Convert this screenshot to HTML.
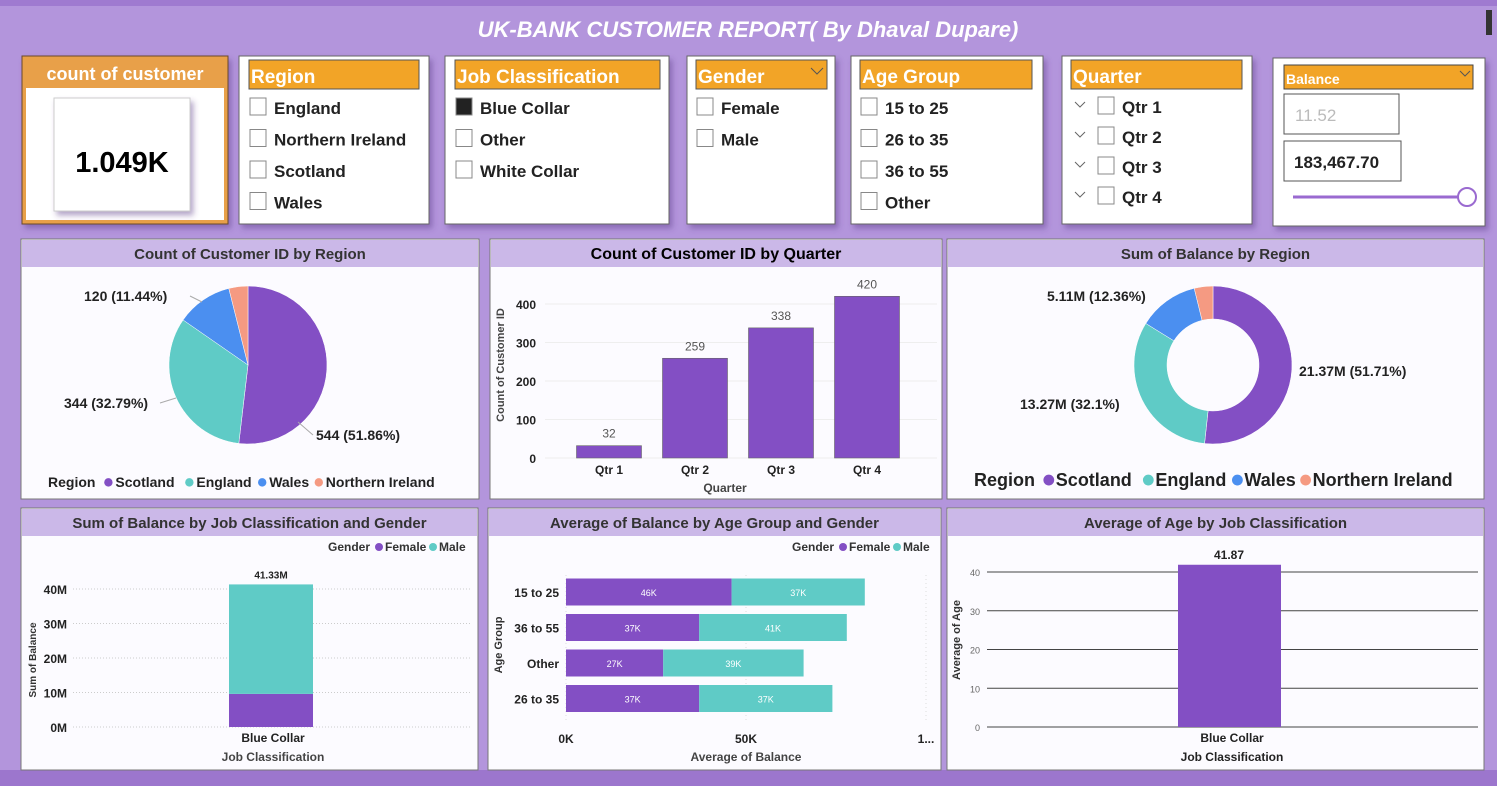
<!DOCTYPE html>
<html><head><meta charset="utf-8"><style>
html,body{margin:0;padding:0;width:1497px;height:786px;overflow:hidden;background:#b395dc;font-family:"Liberation Sans",sans-serif}
svg text{font-family:"Liberation Sans",sans-serif}
</style></head><body>
<svg id="dash" width="1497" height="786" viewBox="0 0 1497 786" xmlns="http://www.w3.org/2000/svg">
<defs><filter id="sh" x="-5%" y="-5%" width="115%" height="120%"><feDropShadow dx="3" dy="4" stdDeviation="3" flood-color="#5a3c86" flood-opacity="0.45"/></filter></defs>
<rect x="0" y="0" width="1497" height="786" fill="#b395dc"/>
<rect x="0" y="0" width="1497" height="6" fill="#9f7ad0"/>
<rect x="0" y="770" width="1497" height="16" fill="#9c76cd"/>
<rect x="1486" y="10" width="6" height="25" fill="#333"/>
<text x="748" y="37" text-anchor="middle" font-size="22" font-weight="bold" font-style="italic" fill="#fff">UK-BANK CUSTOMER REPORT( By Dhaval Dupare)</text>

<!-- KPI card -->
<g filter="url(#sh)">
<rect x="22" y="56" width="206" height="168" fill="#e8a04a" stroke="#6b4a2a" stroke-width="1"/>
<rect x="26" y="88" width="198" height="132" fill="#fff"/>
</g>
<text x="125" y="80" text-anchor="middle" font-size="18" font-weight="bold" fill="#fff">count of customer</text>
<rect x="54" y="98" width="136" height="113" fill="#fff" stroke="#ccc" filter="url(#sh)"/>
<text x="122" y="172" text-anchor="middle" font-size="29" font-weight="bold" fill="#000">1.049K</text>

<g id="slicers"></g>

<!-- Balance slicer -->
<g>
<rect x="1273" y="58" width="212" height="168" fill="#fff" stroke="#666" filter="url(#sh)"/>
<rect x="1284" y="65" width="189" height="24" fill="#f2a427" stroke="#444"/>
<text x="1286" y="84" font-size="14" font-weight="bold" fill="#fff">Balance</text>
<path d="M1460 71 l5 5 l5 -5" fill="none" stroke="#555"/>
<rect x="1284" y="94" width="115" height="40" fill="#fff" stroke="#555"/>
<text x="1295" y="121" font-size="17" fill="#bbb">11.52</text>
<rect x="1284" y="141" width="117" height="40" fill="#fff" stroke="#555"/>
<text x="1294" y="168" font-size="17" font-weight="bold" fill="#222">183,467.70</text>
<line x1="1293" y1="197" x2="1458" y2="197" stroke="#9a6ad0" stroke-width="3"/>
<circle cx="1467" cy="197" r="9" fill="#fff" stroke="#9a6ad0" stroke-width="2"/>
</g>

<g id="cards"></g>
<g id="charts"></g>
</svg>
<script>
const NS="http://www.w3.org/2000/svg";
function mk(tag,attrs,parent,txt){const e=document.createElementNS(NS,tag);for(const k in attrs)e.setAttribute(k,attrs[k]);if(txt!==undefined)e.textContent=txt;parent.appendChild(e);return e;}
const PURPLE="#834fc4",TEAL="#5fcbc6",BLUE="#4b8ff0",SALMON="#f59a82";

// ---- slicers
const slicers=[
 {name:"region-slicer",title:"Region",x:239,w:190,hx:249,hw:170,items:["England","Northern Ireland","Scotland","Wales"]},
 {name:"job-classification-slicer",title:"Job Classification",x:445,w:224,hx:455,hw:205,items:["Blue Collar","Other","White Collar"],checked:0},
 {name:"gender-slicer",title:"Gender",x:687,w:148,hx:696,hw:131,items:["Female","Male"],chev:true},
 {name:"age-group-slicer",title:"Age Group",x:851,w:192,hx:860,hw:172,items:["15 to 25","26 to 35","36 to 55","Other"]},
 {name:"quarter-slicer",title:"Quarter",x:1062,w:190,hx:1071,hw:171,items:["Qtr 1","Qtr 2","Qtr 3","Qtr 4"],tree:true}
];
const sg=document.getElementById('slicers');
slicers.forEach(s=>{
 const g=mk('g',{},sg);
 
 
 mk('rect',{x:s.x,y:56,width:s.w,height:168,fill:'#fff',stroke:'#666',filter:'url(#sh)'},g);
 mk('rect',{x:s.hx,y:60,width:s.hw,height:29,fill:'#f2a427',stroke:'#555'},g);
 mk('text',{x:s.hx+2,y:83,'font-size':19,'font-weight':'bold',fill:'#fff'},g,s.title);
 if(s.chev) mk('path',{d:`M${s.hx+s.hw-16} 68 l6 6 l6 -6`,fill:'none',stroke:'#555'},g);
 s.items.forEach((it,i)=>{
  const y=s.tree?106+i*30:107+i*31.5;
  let bx=s.hx+1;
  if(s.tree){mk('path',{d:`M${s.hx+4} ${y-4} l5 5 l5 -5`,fill:'none',stroke:'#666'},g);bx=s.hx+27;}
  const cb=mk('rect',{x:bx,y:y-9,width:16,height:17,fill:s.checked===i?'#222':'#fff',stroke:'#888'},g);
  
  
  mk('text',{x:bx+24,y:y+7,'font-size':17,'font-weight':'bold',fill:'#222'},g,it);
 });
});

// ---- chart cards
const cardsDef=[
 {name:"region-pie-card",x:21,y:239,w:458,h:260,t:"Count of Customer ID by Region",c:"#333"},
 {name:"quarter-bar-card",x:490,y:239,w:452,h:260,t:"Count of Customer ID by Quarter",c:"#000",b:true},
 {name:"balance-donut-card",x:947,y:239,w:537,h:260,t:"Sum of Balance by Region",c:"#333"},
 {name:"job-gender-card",x:21,y:508,w:457,h:262,t:"Sum of Balance by Job Classification and Gender",c:"#333"},
 {name:"age-gender-card",x:488,y:508,w:453,h:262,t:"Average of Balance by Age Group and Gender",c:"#333"},
 {name:"age-job-card",x:947,y:508,w:537,h:262,t:"Average of Age by Job Classification",c:"#333"}
];
const cg=document.getElementById('cards');
cardsDef.forEach(c=>{
 const g=mk('g',{},cg);
 
 
 mk('rect',{x:c.x,y:c.y,width:c.w,height:c.h,fill:'#fcfbff',stroke:'#777'},g);
 mk('rect',{x:c.x+1,y:c.y+1,width:c.w-2,height:27,fill:'#cbb8e8'},g);
 mk('text',{x:c.x+c.w/2,y:c.y+20,'text-anchor':'middle','font-size':c.b?16:15,'font-weight':'bold',fill:c.c},g,c.t);
});

const ch=document.getElementById('charts');

// ---- Pie: count by region
const pieRegions=["Scotland","England","Wales","Northern Ireland"];
const pieCounts=[544,344,120,41];
const pieColors=[PURPLE,TEAL,BLUE,SALMON];
function drawPie(cx,cy,r,ri,vals,cols,name){
 const tot=vals.reduce((a,b)=>a+b,0);let a0=-Math.PI/2;
 vals.forEach((v,i)=>{
  const a1=a0+v/tot*2*Math.PI,large=(a1-a0)>Math.PI?1:0;
  const p=(a,rr)=>[cx+rr*Math.cos(a),cy+rr*Math.sin(a)];
  const [x0,y0]=p(a0,r),[x1,y1]=p(a1,r);
  let d=`M${x0} ${y0} A${r} ${r} 0 ${large} 1 ${x1} ${y1}`;
  if(ri>0){const [x2,y2]=p(a1,ri),[x3,y3]=p(a0,ri);d+=` L${x2} ${y2} A${ri} ${ri} 0 ${large} 0 ${x3} ${y3} Z`;}
  else d+=` L${cx} ${cy} Z`;
  const s=mk('path',{d:d,fill:cols[i],stroke:'#fff','stroke-width':0.5},ch);
  
  
  a0=a1;
 });
}
drawPie(248,365,79,0,pieCounts,pieColors,'region-pie');
const pieLabels=["544 (51.86%)","344 (32.79%)","120 (11.44%)"];
mk('text',{x:316,y:440,'font-size':14,'font-weight':'bold',fill:'#222'},ch,pieLabels[0]);
mk('text',{x:64,y:408,'font-size':14,'font-weight':'bold',fill:'#222'},ch,pieLabels[1]);
mk('text',{x:84,y:301,'font-size':14,'font-weight':'bold',fill:'#222'},ch,pieLabels[2]);
mk('path',{d:'M298 422 L313 435',stroke:'#aaa',fill:'none'},ch);
mk('path',{d:'M160 403 L176 398',stroke:'#aaa',fill:'none'},ch);
mk('path',{d:'M190 296 L202 302',stroke:'#aaa',fill:'none'},ch);
function legend(x,y,fs,title,items,cols,gap){
 const g=mk('g',{},ch);
 
 
 mk('text',{x:x,y:y,'font-size':fs,'font-weight':'bold',fill:'#222'},g,title);
 let cx=x+title.length*fs*0.6+6;
 items.forEach((it,i)=>{
  mk('circle',{cx:cx+4,cy:y-fs*0.33,r:fs*0.3,fill:cols[i]},g);
  mk('text',{x:cx+11,y:y,'font-size':fs,'font-weight':'bold',fill:'#222'},g,it);
  cx+=11+it.length*fs*0.58+gap;
 });
}
legend(48,487,14,"Region",pieRegions,pieColors,5);

// ---- Donut: balance by region
const donutVals=[21.37,13.27,5.11,1.58];
drawPie(1213,365,79,46,donutVals,pieColors,'balance-donut');
const donutLabels=["21.37M (51.71%)","13.27M (32.1%)","5.11M (12.36%)"];
mk('text',{x:1299,y:376,'font-size':14,'font-weight':'bold',fill:'#222'},ch,donutLabels[0]);
mk('text',{x:1020,y:409,'font-size':14,'font-weight':'bold',fill:'#222'},ch,donutLabels[1]);
mk('text',{x:1047,y:301,'font-size':14,'font-weight':'bold',fill:'#222'},ch,donutLabels[2]);
legend(974,486,18,"Region",pieRegions,pieColors,5);

// ---- Quarter bar
const quarters=["Qtr 1","Qtr 2","Qtr 3","Qtr 4"];
const quarterCounts=[32,259,338,420];
const qTicks=[0,100,200,300,400];
const qy=v=>458-v*(154/400), qx=i=>609+i*86;
qTicks.forEach(t=>{mk('line',{x1:545,y1:qy(t),x2:937,y2:qy(t),stroke:'#eee'},ch);
 mk('text',{x:536,y:qy(t)+5,'text-anchor':'end','font-size':12,'font-weight':'bold',fill:'#222'},ch,t);});
quarterCounts.forEach((v,i)=>{
 const r=mk('rect',{x:qx(i)-32.5,y:qy(v),width:65,height:qy(0)-qy(v),fill:PURPLE,stroke:'#666','stroke-width':0.6},ch);
 
 
 mk('text',{x:qx(i),y:qy(v)-8,'text-anchor':'middle','font-size':12,fill:'#555'},ch,v);
 mk('text',{x:qx(i),y:474,'text-anchor':'middle','font-size':12,'font-weight':'bold',fill:'#222'},ch,quarters[i]);
});
mk('text',{x:725,y:492,'text-anchor':'middle','font-size':12,'font-weight':'bold',fill:'#444'},ch,"Quarter");
mk('text',{x:0,y:0,transform:'translate(504,365) rotate(-90)','text-anchor':'middle','font-size':11,'font-weight':'bold',fill:'#444'},ch,"Count of Customer ID");

// ---- Job/gender stacked column
const jobCats=["Blue Collar"];
const jobFemale=[9.6];
const jobMale=[31.73];
const jobTicks=[0,10,20,30,40];
const jy=v=>727-v*(138/40);
jobTicks.forEach(t=>{mk('line',{x1:73,y1:jy(t),x2:470,y2:jy(t),stroke:'#ccc','stroke-dasharray':'1 2'},ch);
 mk('text',{x:67,y:jy(t)+5,'text-anchor':'end','font-size':12,'font-weight':'bold',fill:'#222'},ch,t+"M");});
jobCats.forEach((c,i)=>{
 const cx=271;
 const f=mk('rect',{x:cx-42,y:jy(jobFemale[i]),width:84,height:jy(0)-jy(jobFemale[i]),fill:PURPLE},ch);
 
 
 const m=mk('rect',{x:cx-42,y:jy(jobFemale[i]+jobMale[i]),width:84,height:jy(jobFemale[i])-jy(jobFemale[i]+jobMale[i]),fill:TEAL},ch);
 
 
 mk('text',{x:cx,y:jy(jobFemale[i]+jobMale[i])-6,'text-anchor':'middle','font-size':10,'font-weight':'bold',fill:'#222'},ch,(jobFemale[i]+jobMale[i]).toFixed(2)+"M");
 mk('text',{x:cx+2,y:742,'text-anchor':'middle','font-size':12,'font-weight':'bold',fill:'#222'},ch,c);
});
mk('text',{x:273,y:761,'text-anchor':'middle','font-size':12,'font-weight':'bold',fill:'#444'},ch,"Job Classification");
mk('text',{x:0,y:0,transform:'translate(36,660) rotate(-90)','text-anchor':'middle','font-size':10,'font-weight':'bold',fill:'#333'},ch,"Sum of Balance");
function glegend(x,y){
 mk('text',{x:x,y:y,'font-size':12,'font-weight':'bold',fill:'#333'},ch,"Gender");
 mk('circle',{cx:x+51,cy:y-4,r:4,fill:PURPLE},ch);
 mk('text',{x:x+57,y:y,'font-size':12,'font-weight':'bold',fill:'#333'},ch,"Female");
 mk('circle',{cx:x+105,cy:y-4,r:4,fill:TEAL},ch);
 mk('text',{x:x+111,y:y,'font-size':12,'font-weight':'bold',fill:'#333'},ch,"Male");
}
glegend(328,551); glegend(792,551);

// ---- Age/gender horizontal stacked
const ageGroups=["15 to 25","36 to 55","Other","26 to 35"];
const ageFemale=[46,37,27,37];
const ageMale=[37,41,39,37];
const ageTicks=[0,50,100];
const ageTickLabels=["0K","50K","1..."];
const ax=v=>566+v*3.6, ayc=i=>592+i*35.5;
ageTicks.forEach((t,k)=>{mk('line',{x1:ax(t),y1:575,x2:ax(t),y2:722,stroke:'#ddd','stroke-dasharray':'1 3'},ch);
 mk('text',{x:ax(t),y:743,'text-anchor':'middle','font-size':12,'font-weight':'bold',fill:'#222'},ch,ageTickLabels[k]);});
ageGroups.forEach((g,i)=>{
 const y=ayc(i)-13.5;
 const f=mk('rect',{x:ax(0),y:y,width:ax(ageFemale[i])-ax(0),height:27,fill:PURPLE},ch);
 
 
 const m=mk('rect',{x:ax(ageFemale[i]),y:y,width:ax(ageMale[i])-ax(0),height:27,fill:TEAL},ch);
 
 
 mk('text',{x:(ax(0)+ax(ageFemale[i]))/2,y:ayc(i)+4,'text-anchor':'middle','font-size':9,fill:'#fff'},ch,ageFemale[i]+"K");
 mk('text',{x:(ax(ageFemale[i])+ax(ageFemale[i]+ageMale[i]))/2,y:ayc(i)+4,'text-anchor':'middle','font-size':9,fill:'#fff'},ch,ageMale[i]+"K");
 mk('text',{x:559,y:ayc(i)+5,'text-anchor':'end','font-size':12,'font-weight':'bold',fill:'#222'},ch,g);
});
mk('text',{x:746,y:761,'text-anchor':'middle','font-size':12,'font-weight':'bold',fill:'#444'},ch,"Average of Balance");
mk('text',{x:0,y:0,transform:'translate(502,645) rotate(-90)','text-anchor':'middle','font-size':11,'font-weight':'bold',fill:'#333'},ch,"Age Group");

// ---- Average age
const ageJobCats=["Blue Collar"];
const avgAge=[41.87];
const ageAxisTicks=[0,10,20,30,40];
const gy=v=>727-v*(155/40);
ageAxisTicks.forEach(t=>{mk('line',{x1:987,y1:gy(t),x2:1478,y2:gy(t),stroke:'#444'},ch);
 mk('text',{x:980,y:gy(t)+4,'text-anchor':'end','font-size':9,fill:'#666'},ch,t);});
ageJobCats.forEach((c,i)=>{
 const r=mk('rect',{x:1178,y:gy(avgAge[i]),width:103,height:gy(0)-gy(avgAge[i]),fill:PURPLE},ch);
 
 
 mk('text',{x:1229,y:gy(avgAge[i])-6,'text-anchor':'middle','font-size':12,'font-weight':'bold',fill:'#222'},ch,avgAge[i]);
 mk('text',{x:1232,y:742,'text-anchor':'middle','font-size':12,'font-weight':'bold',fill:'#222'},ch,c);
});
mk('text',{x:1232,y:761,'text-anchor':'middle','font-size':12,'font-weight':'bold',fill:'#222'},ch,"Job Classification");
mk('text',{x:0,y:0,transform:'translate(960,640) rotate(-90)','text-anchor':'middle','font-size':11,'font-weight':'bold',fill:'#333'},ch,"Average of Age");
</script>
</body></html>
